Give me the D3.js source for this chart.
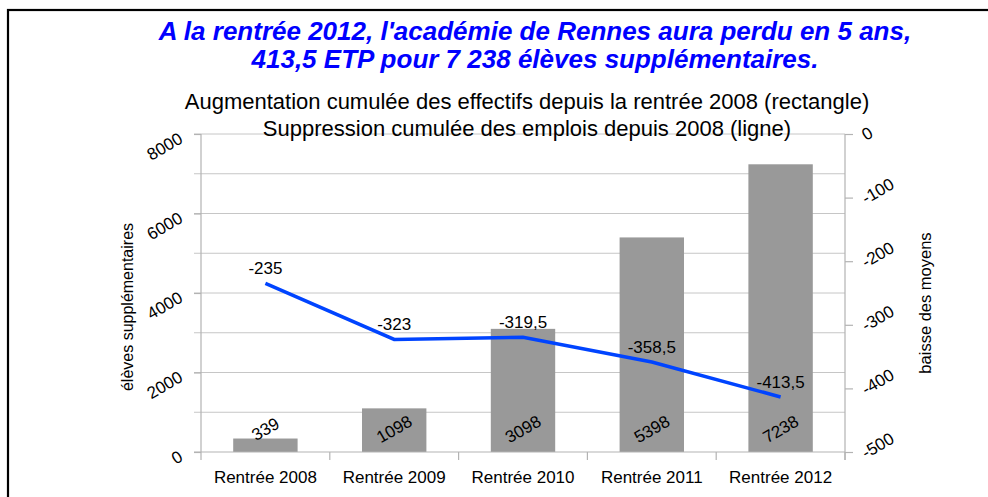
<!DOCTYPE html>
<html>
<head>
<meta charset="utf-8">
<script src="https://cdn.jsdelivr.net/npm/d3@7"></script>
<style>
  body { margin: 0; background: #fff; }
  svg { font-family: Arial, "Liberation Sans", sans-serif; }
  .grid line { stroke: #c6c6c6; stroke-width: 1; }
  .axis path, .axis line { stroke: #b3b3b3; stroke-width: 1.2; }
</style>
</head>
<body>
<svg id="chart"></svg>
<script>
// data
const categories = ['Rentrée 2008', 'Rentrée 2009', 'Rentrée 2010', 'Rentrée 2011', 'Rentrée 2012'];
const eleves = [339, 1098, 3098, 5398, 7238];
const emplois = [-235, -323, -319.5, -358.5, -413.5];
const emploisLabels = ['-235', '-323', '-319,5', '-358,5', '-413,5'];
const leftTicks = [0, 2000, 4000, 6000, 8000];
const rightTicks = [0, -100, -200, -300, -400, -500];
const titleLines = ["A la rentrée 2012, l'académie de Rennes aura perdu en 5 ans,",
                    "413,5 ETP pour 7 238 élèves supplémentaires."];
const subtitleLines = ['Augmentation cumulée des effectifs depuis la rentrée 2008 (rectangle)',
                       'Suppression cumulée des emplois depuis 2008 (ligne)'];

const config = {
  width: 988,
  height: 497,
  margin: {top: 134, right: 143, bottom: 45, left: 201}
};

const svg = d3.select('#chart')
    .attr('width', config.width)
    .attr('height', config.height);

const innerW = config.width - config.margin.left - config.margin.right;
const innerH = config.height - config.margin.top - config.margin.bottom;

// outer frame
svg.append('rect')
    .attr('x', 8).attr('y', 10)
    .attr('width', 1000).attr('height', 600)
    .attr('fill', 'none')
    .attr('stroke', '#000')
    .attr('stroke-width', 2.2);

// titles
svg.append('g').selectAll('text')
    .data(titleLines)
  .join('text')
    .attr('x', 535)
    .attr('y', (d, i) => 40 + i * 28)
    .attr('text-anchor', 'middle')
    .attr('fill', '#0000ff')
    .style('font-size', '26px')
    .style('font-weight', 'bold')
    .style('font-style', 'italic')
    .text(d => d);

const chart = svg.append('g')
    .attr('transform', `translate(${config.margin.left},${config.margin.top})`);

// scales
const xScale = d3.scaleBand()
    .domain(categories)
    .range([0, innerW])
    .paddingInner(0.5)
    .paddingOuter(0.25);

const xBounds = d3.scalePoint()
    .domain(d3.range(categories.length + 1))
    .range([0, innerW]);

const yLeft = d3.scaleLinear()
    .domain([0, 8000])
    .range([innerH, 0]);

const yRight = d3.scaleLinear()
    .domain([-500, 0])
    .range([innerH, 0]);

// gridlines every 1000
chart.append('g')
    .attr('class', 'grid')
  .selectAll('line')
    .data(d3.range(1000, 8001, 1000))
  .join('line')
    .attr('x1', -7)
    .attr('x2', innerW)
    .attr('y1', d => yLeft(d))
    .attr('y2', d => yLeft(d));

// bars
chart.append('g').selectAll('rect')
    .data(eleves)
  .join('rect')
    .attr('x', (d, i) => xScale(categories[i]))
    .attr('y', d => yLeft(d))
    .attr('width', xScale.bandwidth())
    .attr('height', d => yLeft(0) - yLeft(d))
    .attr('fill', '#999999');

// axes
const leftAxis = chart.append('g')
    .attr('class', 'axis')
    .call(d3.axisLeft(yLeft).tickValues(leftTicks).tickSize(7).tickFormat(''));

const rightAxis = chart.append('g')
    .attr('class', 'axis')
    .attr('transform', `translate(${innerW},0)`)
    .call(d3.axisRight(yRight).tickValues(rightTicks).tickSize(8).tickFormat(''));

const bottomAxis = chart.append('g')
    .attr('class', 'axis')
    .attr('transform', `translate(0,${innerH})`);
bottomAxis.append('line')
    .attr('x1', -7).attr('x2', innerW)
    .attr('y1', 0).attr('y2', 0);
bottomAxis.selectAll('line.tick')
    .data(xBounds.domain())
  .join('line')
    .attr('class', 'tick')
    .attr('x1', d => xBounds(d)).attr('x2', d => xBounds(d))
    .attr('y1', 0).attr('y2', 8);
leftAxis.select('.domain').attr('d', `M0,0V${innerH}`);
rightAxis.select('.domain').attr('d', `M0,0V${innerH + 8}`);

// tick labels (rotated)
chart.append('g').selectAll('text')
    .data(leftTicks)
  .join('text')
    .attr('transform', d => `translate(-17,${yLeft(d) + 8}) rotate(-30)`)
    .attr('text-anchor', 'end')
    .style('font-size', '17px')
    .text(d => d);

chart.append('g').selectAll('text')
    .data(rightTicks)
  .join('text')
    .attr('transform', d => `translate(${innerW + 21},${yRight(d) + 7}) rotate(-30)`)
    .attr('text-anchor', 'start')
    .style('font-size', '17px')
    .text(d => d);

chart.append('g').selectAll('text')
    .data(categories)
  .join('text')
    .attr('x', d => xScale(d) + xScale.bandwidth() / 2)
    .attr('y', innerH + 31)
    .attr('text-anchor', 'middle')
    .style('font-size', '17px')
    .text(d => d);

// axis titles
svg.append('text')
    .attr('transform', 'translate(133,307) rotate(-90)')
    .attr('text-anchor', 'middle')
    .style('font-size', '16px')
    .text('élèves supplémentaires');

svg.append('text')
    .attr('transform', 'translate(931,303) rotate(-90)')
    .attr('text-anchor', 'middle')
    .style('font-size', '16.5px')
    .text('baisse des moyens');

// bar value labels
chart.append('g').selectAll('text')
    .data(eleves)
  .join('text')
    .attr('transform', (d, i) => `translate(${xScale(categories[i]) + xScale.bandwidth() / 2},${innerH - 23}) rotate(-30)`)
    .attr('text-anchor', 'middle')
    .attr('dy', '0.35em')
    .style('font-size', '17px')
    .text(d => d);

// line
const line = d3.line()
    .x((d, i) => xScale(categories[i]) + xScale.bandwidth() / 2)
    .y(d => yRight(d));

chart.append('path')
    .datum(emplois)
    .attr('d', line)
    .attr('fill', 'none')
    .attr('stroke', '#0044ff')
    .attr('stroke-width', 3.5);

chart.append('g').selectAll('text')
    .data(emplois)
  .join('text')
    .attr('x', (d, i) => xScale(categories[i]) + xScale.bandwidth() / 2)
    .attr('y', d => yRight(d) - 9)
    .attr('text-anchor', 'middle')
    .style('font-size', '17px')
    .text((d, i) => emploisLabels[i]);

// subtitle drawn last, the top gridline runs under it in the reference
svg.append('g').selectAll('text')
    .data(subtitleLines)
  .join('text')
    .attr('x', 527)
    .attr('y', (d, i) => 109 + i * 27)
    .attr('text-anchor', 'middle')
    .style('font-size', '22px')
    .text(d => d);
</script>
</body>
</html>
